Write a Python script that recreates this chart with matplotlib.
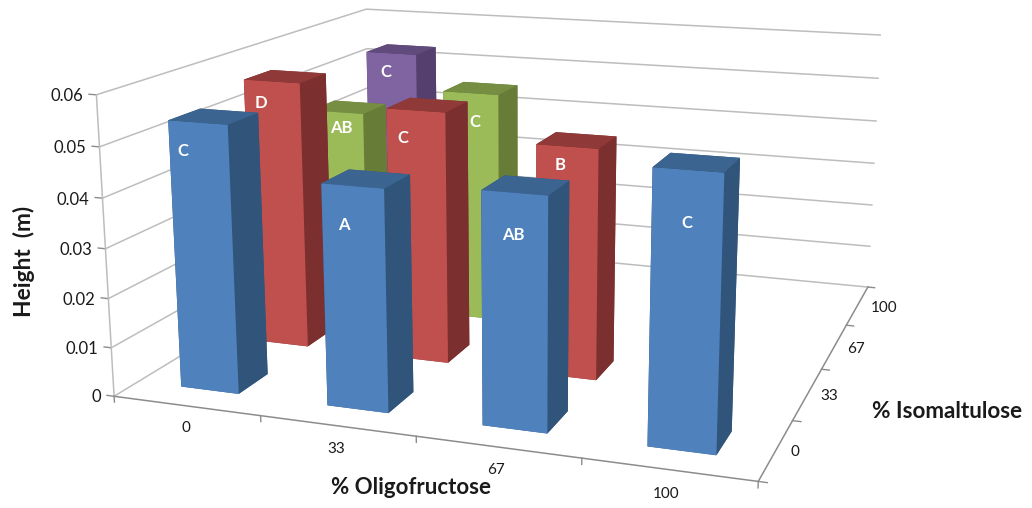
import numpy as np
import matplotlib
matplotlib.use('Agg')
import matplotlib.pyplot as plt
from mpl_toolkits.mplot3d import proj3d

W, H = 1032, 508

# dados das barras: altura (m) por % de isomaltulose e % de oligofrutose
oligo_labels = ['0', '33', '67', '100']
iso_labels = ['0', '33', '67', '100']
height_iso0 = [0.0540, 0.0441, 0.0454, 0.0521]
height_iso33 = [0.0567, 0.0527, 0.0476]
height_iso67 = [0.0445, 0.0508]
height_iso100 = [0.0530]
rows = [height_iso0, height_iso33, height_iso67, height_iso100]
z_ticks = [0, 0.01, 0.02, 0.03, 0.04, 0.05, 0.06]
z_tick_labels = ['0', '0.01', '0.02', '0.03', '0.04', '0.05', '0.06']

# letras de significancia, na mesma ordem das barras
letters = [['C', 'A', 'AB', 'C'], ['D', 'C', 'B'], ['AB', 'C'], ['C']]
letter_px = [[(183, 151), (344, 225), (513, 235), (687, 223)],
             [(261, 103), (403, 138), (560, 165)],
             [(341, 128), (475, 122)],
             [(386, 72)]]

# cor de cada serie: frente, lateral, topo
colors = [('#4F81BD', '#31547A', '#3C6490'),
          ('#C0504D', '#7B2F2E', '#8F3A38'),
          ('#9BBB59', '#677C37', '#768E42'),
          ('#8064A2', '#553F6E', '#614A7C')]

GRID = '#BDBDBD'
AXIS = '#8C8C8C'
TEXT = '#1A1A1A'
BAR_W = 0.4
GAP = 0.3
iso_label_dx = [0.105, 0.135, 0.145, 0.19]

plt.rcParams['font.family'] = ['Lato', 'DejaVu Sans']

fig = plt.figure(figsize=(W / 100, H / 100), dpi=100)
ax = fig.add_axes([85.14 / W, -135.04 / H, 859.01 / W, 859.01 / H], projection='3d')
ax.view_init(14.055, -70.81, -0.0358)
ax.set_proj_type('persp', focal_length=float(np.exp(-0.9545)))
ax.set_box_aspect((1, 0.9633, 0.4686))
ax.set_xlim(0, 4)
ax.set_ylim(0, 4)
ax.set_zlim(0, 0.06)
ax.computed_zorder = False
ax.set_axis_off()


def label3d(x, y, z, s, **kw):
    # texto 2D ancorado num ponto 3D ja projetado
    px, py, _ = proj3d.proj_transform(x, y, z, ax.get_proj())
    ax.text2D(px, py, s, transform=ax.transData, color=TEXT, va='center', **kw)


# paredes e chao
for z in z_ticks:
    ax.plot([0, 0, 4], [0, 4, 4], [z, z, z], color=GRID, lw=1.1, zorder=1)
    ax.plot([-0.05, 0], [0, 0], [z, z], color=AXIS, lw=1, zorder=1)
ax.plot([0, 0], [0, 0], [0, 0.06], color=GRID, lw=1.1, zorder=1)
ax.plot([0, 4, 4], [0, 0, 4], [0, 0, 0], color=AXIS, lw=1.1, zorder=1)
for i in range(5):
    ax.plot([i, i], [0, 0], [0, -0.0012], color=AXIS, lw=1, zorder=1)
    ax.plot([4, 4.05], [i, i], [0, 0], color=AXIS, lw=1, zorder=1)

# barras: de tras para frente, da esquerda para a direita
order = 2
for j in range(len(rows) - 1, -1, -1):
    front, side, top = colors[j]
    for i, h in enumerate(rows[j]):
        ax.bar3d(i + GAP, j + GAP, 0, BAR_W, BAR_W, h, shade=False,
                 color=[top, top, front, side, side, side],
                 edgecolor='none', linewidth=0, zorder=order)
        order += 1

# rotulos dos eixos
for z, lab in zip(z_ticks, z_tick_labels):
    label3d(-0.09, 0, z - 0.0005, lab, ha='right', fontsize=12)
for i, lab in enumerate(oligo_labels):
    label3d(i + 0.488, 0, -0.0046, lab, ha='center', fontsize=11)
for j, lab in enumerate(iso_labels):
    label3d(4 + iso_label_dx[j], j + 0.5, 0, lab, ha='center', fontsize=11)

for row_letters, row_px in zip(letters, letter_px):
    for lab, (px, py) in zip(row_letters, row_px):
        fig.text(px / W, 1 - py / H, lab, ha='center', va='center', fontsize=12,
                 fontweight='bold', color='white', zorder=5)

fig.text(24 / W, 1 - 261 / H, 'Height  (m)', rotation=90, ha='center', va='center',
         fontsize=16.4, fontweight='bold', color=TEXT)
fig.text(411 / W, 1 - 488 / H, '% Oligofructose', ha='center', va='center',
         fontsize=16, fontweight='bold', color=TEXT)
fig.text(947 / W, 1 - 412 / H, '% Isomaltulose', ha='center', va='center',
         fontsize=16.2, fontweight='bold', color=TEXT)

fig.savefig('out.png', dpi=100)
